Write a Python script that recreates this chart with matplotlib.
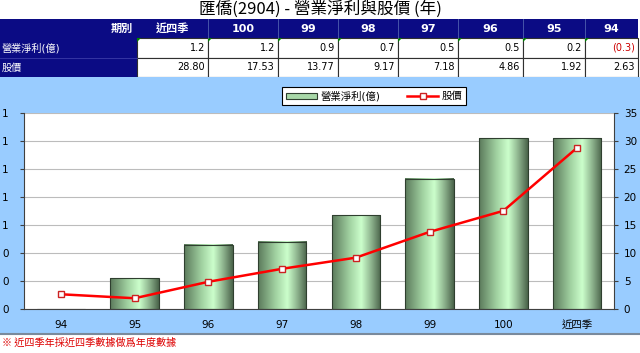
import numpy as np
import matplotlib.pyplot as plt
from matplotlib.patches import Rectangle, Polygon, Patch
from matplotlib.lines import Line2D
from matplotlib.colors import LinearSegmentedColormap
from matplotlib.ticker import FormatStrFormatter, MultipleLocator

plt.rcParams['font.family'] = ['DejaVu Sans', 'Noto Sans CJK TC']

# table data (newest first, as in the header row)
title = '匯僑(2904) - 營業淨利與股價 (年)'
periods = ['近四季', '100', '99', '98', '97', '96', '95', '94']
profit_text = ['1.2', '1.2', '0.9', '0.7', '0.5', '0.5', '0.2', '(0.3)']
price_text = ['28.80', '17.53', '13.77', '9.17', '7.18', '4.86', '1.92', '2.63']
row_labels = ['營業淨利(億)', '股價']

# chart data (oldest first)
categories = ['94', '95', '96', '97', '98', '99', '100', '近四季']
profit = [-0.3, 0.22, 0.46, 0.48, 0.67, 0.93, 1.22, 1.22]
price = [2.63, 1.92, 4.86, 7.18, 9.17, 13.77, 17.53, 28.80]
legend_labels = ['營業淨利(億)', '股價']
footnote = '※ 近四季年採近四季數據做爲年度數據'

W, H = 640, 353
navy = '#0b0b84'
sky = '#99ccff'

fig = plt.figure(figsize=(W / 100, H / 100), dpi=100)

# background layer in pixel coordinates
bg = fig.add_axes([0, 0, 1, 1])
bg.set_xlim(0, W)
bg.set_ylim(H, 0)
bg.axis('off')

bg.text(W / 2, 9.5, title, ha='center', va='center', fontsize=12,
        fontweight='medium', family=['Noto Sans CJK TC', 'DejaVu Sans'])

# --- table ---
col_edges = [0, 137, 208, 278, 338, 398, 458, 523, 585, 638]
row_edges = [19, 38, 58, 77]

bg.add_patch(Rectangle((0, row_edges[0]), col_edges[-1], row_edges[1] - row_edges[0],
                       facecolor=navy, edgecolor='none'))
bg.add_patch(Rectangle((0, row_edges[1]), col_edges[1], row_edges[3] - row_edges[1],
                       facecolor=navy, edgecolor='none'))
bg.plot([0, col_edges[1]], [row_edges[2], row_edges[2]], color='#3c3ca8', lw=0.6)
bg.text(col_edges[1] - 4, (row_edges[0] + row_edges[1]) / 2, '期別', color='white',
        ha='right', va='center', fontsize=8, fontweight='bold')

for r, lab in enumerate(row_labels):
    yc = (row_edges[r + 1] + row_edges[r + 2]) / 2
    bg.text(2, yc, lab, color='white', ha='left', va='center', fontsize=7.3)

for j, per in enumerate(periods):
    x0, x1 = col_edges[j + 1], col_edges[j + 2]
    bg.text((x0 + x1) / 2, (row_edges[0] + row_edges[1]) / 2, per, color='white',
            ha='center', va='center', fontsize=8, fontweight='bold')
    if j > 0:
        bg.plot([x0, x0], [row_edges[0], row_edges[1]], color='#5060b0', lw=0.6)
    for r, vals in enumerate([profit_text, price_text]):
        y0, y1 = row_edges[r + 1], row_edges[r + 2]
        bg.add_patch(Rectangle((x0, y0), x1 - x0, y1 - y0, facecolor='white',
                               edgecolor='#303030', lw=0.8))
        txt = vals[j]
        bg.text(x1 - 3, (y0 + y1) / 2, txt, ha='right', va='center', fontsize=7,
                color='#cc0000' if txt.startswith('(') else 'black')
        if r == 0:
            bg.add_patch(Polygon([[x0, y0], [x0 + 4, y0], [x0, y0 + 4]],
                                 closed=True, facecolor='#008000', edgecolor='none'))

# chart background band
bg.add_patch(Rectangle((0, row_edges[3]), W, 333 - row_edges[3], facecolor=sky,
                       edgecolor='none'))
bg.plot([0, W], [334, 334], color='#7a8a9c', lw=1.5)
bg.text(2, 343, footnote, color='#dd0000', ha='left', va='center', fontsize=7.3,
        family=['Noto Sans CJK TC', 'DejaVu Sans'])

# --- chart ---
ax = fig.add_axes([24 / W, 1 - 309 / H, 590 / W, 196 / H])
ax.set_facecolor('white')
x = np.arange(len(categories))
ymin, ymax = 0, 1.4

bars = ax.bar(x, profit, width=0.66, facecolor='none', edgecolor='#2f3f2f',
              lw=0.8, zorder=3)
cyl = LinearSegmentedColormap.from_list(
    'cyl', [(0, '#5b7a5b'), (0.35, '#9fcf9f'), (0.6, '#ccffcc'),
            (0.8, '#8fb58f'), (1, '#4a634a')])
grad = np.linspace(0, 1, 256).reshape(1, -1)
for b in bars:
    bx, bw = b.get_x(), b.get_width()
    lo, hi = sorted([b.get_y(), b.get_y() + b.get_height()])
    lo, hi = max(lo, ymin), min(hi, ymax)
    if hi <= lo:
        continue  # bar lies below the axis floor (negative value)
    ax.imshow(grad, cmap=cyl, extent=[bx, bx + bw, lo, hi],
              aspect='auto', zorder=2, interpolation='bicubic')

ax.set_xlim(-0.5, len(categories) - 0.5)
ax.set_ylim(ymin, ymax)
ax.yaxis.set_major_locator(MultipleLocator(0.2))
ax.yaxis.set_major_formatter(FormatStrFormatter('%.0f'))
ax.yaxis.grid(True, color='#bcbcbc', lw=0.8)
ax.set_axisbelow(True)
ax.set_xticks(x)
ax.set_xticklabels(categories)
ax.tick_params(axis='x', length=0, pad=8, labelsize=7.5)
ax.tick_params(axis='y', length=3, pad=8, labelsize=7.5, color='#404040')
for s in ['top', 'right']:
    ax.spines[s].set_visible(False)
for s in ['left', 'bottom']:
    ax.spines[s].set_color('#404040')

ax2 = ax.twinx()
ax2.plot(x, price, color='#ff0000', lw=1.8, marker='s', ms=5, mfc='white',
         mec='#cc2222', mew=1.0, zorder=5)
ax2.set_ylim(0, 35)
ax2.yaxis.set_major_locator(MultipleLocator(5))
ax2.tick_params(axis='y', length=3, pad=4, labelsize=7.5, color='#404040')
for s in ['top', 'left', 'bottom']:
    ax2.spines[s].set_visible(False)
ax2.spines['right'].set_color('#404040')

handles = [Patch(facecolor='#a8d8a8', edgecolor='#2f3f2f', lw=0.8),
           Line2D([], [], color='#ff0000', lw=1.8, marker='s', ms=5,
                  mfc='white', mec='#cc2222', mew=1.0)]
leg = fig.legend(handles, legend_labels, loc='center',
                 bbox_to_anchor=(374 / W, 1 - 96 / H), ncol=2, fontsize=7.5,
                 frameon=True, fancybox=False, edgecolor='black', framealpha=1,
                 handlelength=3.0, handleheight=0.5, borderpad=0.35,
                 columnspacing=2.6, handletextpad=0.3)
leg.get_frame().set_linewidth(0.8)

fig.savefig('out.png', dpi=100)
